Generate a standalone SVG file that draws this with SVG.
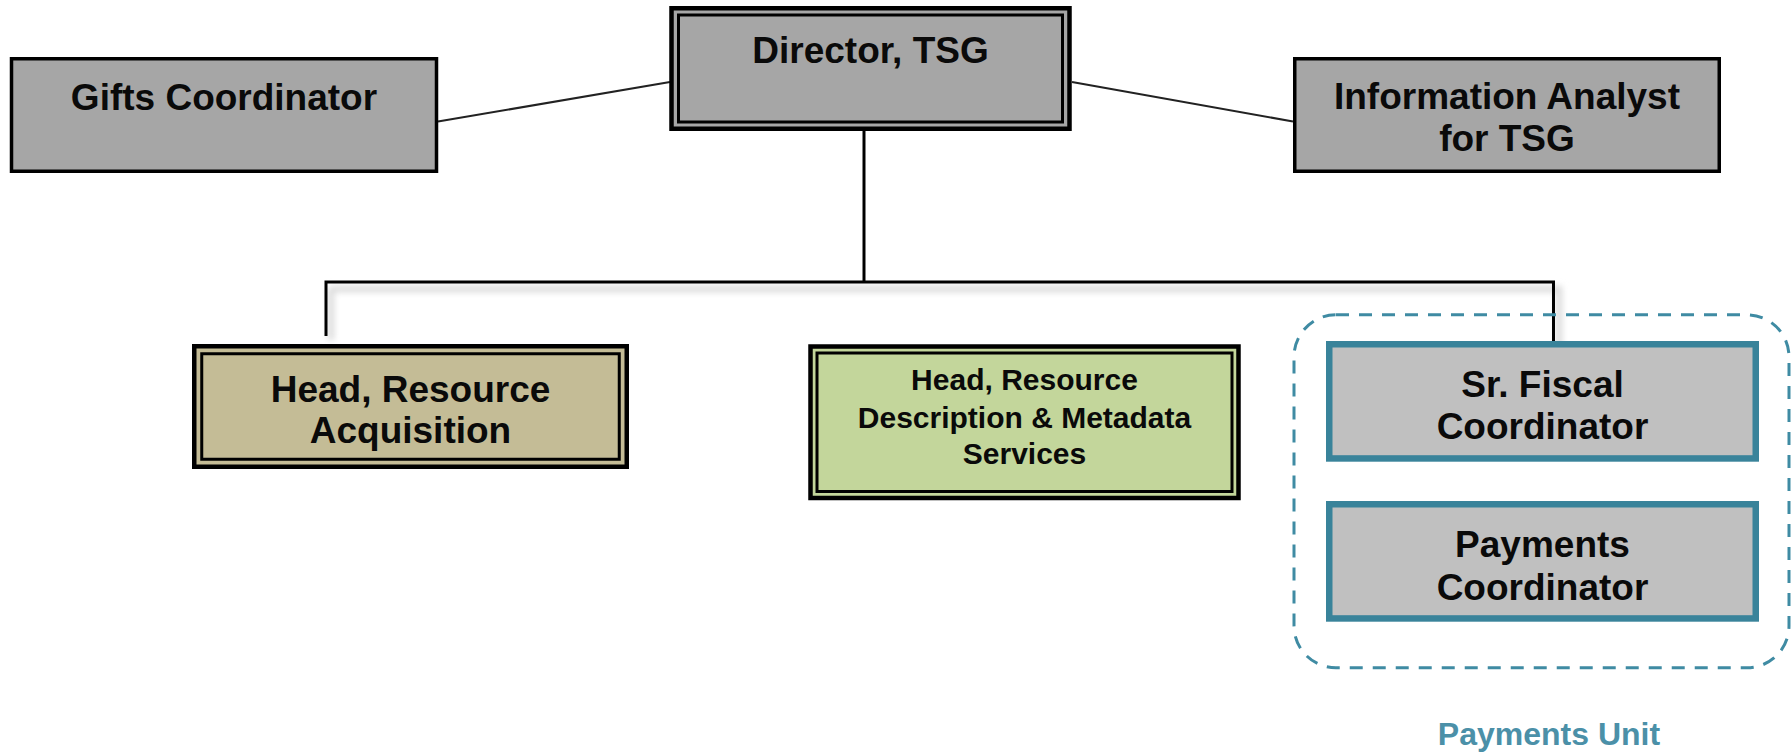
<svg xmlns="http://www.w3.org/2000/svg" width="1792" height="752" viewBox="0 0 1792 752">
  <style>
    .lbl { font-family: "Liberation Sans", Arial, sans-serif; font-weight: bold; font-size: 37px; fill: #0a0a0a; text-anchor: middle; }
    .sm { font-size: 30px; }
    .single { stroke: #000; stroke-width: 3.5; }
    .outer { stroke: #000; stroke-width: 4.5; }
    .inner { fill: none; stroke: #000; stroke-width: 3; }
    .grey { fill: #a6a6a6; }
    .tan { fill: #c4bc96; }
    .green { fill: #c3d69b; }
    .light { fill: #c0c0c0; stroke: #39839a; stroke-width: 6.5; }
    .wire { fill: none; stroke: #000; stroke-width: 3; }
    .side { fill: none; stroke: #222; stroke-width: 2.2; }
    .unit { fill: none; stroke: #3f8ba3; stroke-width: 3; stroke-dasharray: 13 10; }
    .unitlbl { font-family: "Liberation Sans", Arial, sans-serif; font-weight: bold; font-size: 32px; fill: #4b90a8; text-anchor: middle; }
  </style>
  <defs>
    <filter id="soft" x="-5%" y="-50%" width="110%" height="200%">
      <feGaussianBlur stdDeviation="3"/>
    </filter>
  </defs>

  <!-- connectors -->
  <g id="connectors">
    <g filter="url(#soft)" stroke="#d9d9d9" stroke-width="6" fill="none">
      <polyline points="330,289 1559,289 1559,350"/>
      <line x1="331" y1="289" x2="331" y2="340"/>
    </g>
    <line class="side" x1="438" y1="121.5" x2="670" y2="82"/>
    <line class="side" x1="1072" y1="82" x2="1293" y2="121.5"/>
    <line class="wire" x1="864" y1="130" x2="864" y2="282"/>
    <polyline class="wire" points="326,336 326,282 1553.5,282 1553.5,346"/>
  </g>

  <g id="gifts">
    <rect class="grey single" x="11.5" y="58.75" width="425" height="112.5"/>
    <text class="lbl" x="224" y="110">Gifts Coordinator</text>
  </g>

  <g id="director">
    <rect class="grey outer" x="671.5" y="8.25" width="398" height="120.5"/>
    <rect class="inner" x="678.5" y="15" width="384" height="107"/>
    <text class="lbl" x="870.5" y="63">Director, TSG</text>
  </g>

  <g id="analyst">
    <rect class="grey single" x="1294.75" y="58.75" width="424.5" height="112.5"/>
    <text class="lbl" x="1507" y="109">Information Analyst</text>
    <text class="lbl" x="1507" y="150.5">for TSG</text>
  </g>

  <g id="acquisition">
    <rect class="tan outer" x="194.25" y="346.25" width="432.5" height="120.5"/>
    <rect class="inner" x="201.75" y="353.75" width="417.5" height="105.5"/>
    <text class="lbl" x="410.5" y="401.5">Head, Resource</text>
    <text class="lbl" x="410.5" y="443">Acquisition</text>
  </g>

  <g id="metadata">
    <rect class="green outer" x="810.5" y="346.5" width="428" height="151.5"/>
    <rect class="inner" x="817" y="353" width="415" height="138.5"/>
    <text class="lbl sm" x="1024.5" y="390">Head, Resource</text>
    <text class="lbl sm" x="1024.5" y="428">Description &amp; Metadata</text>
    <text class="lbl sm" x="1024.5" y="463.5">Services</text>
  </g>

  <g id="payments-unit">
    <rect class="unit" x="1294" y="314.8" width="495" height="353" rx="42" ry="42"/>
    <text class="unitlbl" x="1549" y="745">Payments Unit</text>
  </g>

  <g id="fiscal">
    <rect class="light" x="1329.25" y="344.25" width="426.5" height="114.2"/>
    <text class="lbl" x="1542.5" y="397">Sr. Fiscal</text>
    <text class="lbl" x="1542.5" y="438.5">Coordinator</text>
  </g>

  <g id="payments">
    <rect class="light" x="1329.25" y="504.25" width="426.5" height="114.2"/>
    <text class="lbl" x="1542.5" y="556.5">Payments</text>
    <text class="lbl" x="1542.5" y="600">Coordinator</text>
  </g>
</svg>
